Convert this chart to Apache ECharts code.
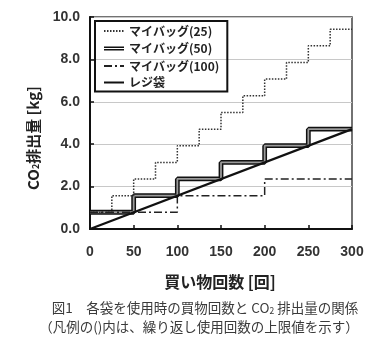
<!DOCTYPE html>
<html>
<head>
<meta charset="utf-8">
<script src="https://cdn.jsdelivr.net/npm/echarts@6/dist/echarts.min.js"></script>
<style>
  html, body { margin: 0; padding: 0; background: #fff; }
  #chart { width: 388px; height: 348px; }
</style>
</head>
<body>
<div id="chart"></div>
<script>
// Shopping trips (x) and cumulative CO2 emissions [kg] for each bag type
const trips25 = [0, 25, 50, 75, 100, 125, 150, 175, 200, 225, 250, 275, 300];
const myBag25 = [0.79, 1.57, 2.36, 3.14, 3.93, 4.71, 5.50, 6.28, 7.07, 7.85, 8.64, 9.42, 9.42];

const trips50 = [0, 50, 100, 150, 200, 250, 300];
const myBag50 = [0.79, 1.57, 2.36, 3.14, 3.93, 4.71, 4.71];

const trips100 = [0, 100, 200, 300];
const myBag100 = [0.79, 1.57, 2.36, 2.36];

const tripsReji = [0, 300];
const rejiBag = [0, 4.71];

const seriesNames = ['マイバッグ(25)', 'マイバッグ(50)', 'マイバッグ(100)', 'レジ袋'];
const yTicks = [0, 2, 4, 6, 8, 10];
const xTicks = [0, 50, 100, 150, 200, 250, 300];

const pairs = (xs, ys) => xs.map((x, i) => [x, ys[i]]);

const latin = '"Liberation Sans", Arial, sans-serif';
const cjk = '"Noto Sans CJK JP", "Liberation Sans", sans-serif';

const chart = echarts.init(document.getElementById('chart'), null, { renderer: 'canvas' });

// two thin bars for the double-line legend key
const doubleIcon = 'path://M0,0h0.05v0.05h-0.05z M0,4.9h20v1.7h-20z M0,7.4h20v1.7h-20z M19.95,13.95h0.05v0.05h-0.05z';
const noSymbol = { itemStyle: { opacity: 0 } };

chart.setOption({
  animation: false,
  backgroundColor: '#fff',
  grid: {
    left: 90, right: 36, top: 17, bottom: 119,
    show: true, borderColor: '#444', borderWidth: 1.5, backgroundColor: 'transparent'
  },
  legend: {
    orient: 'vertical',
    left: 95, top: 21,
    padding: [4, 8, 3, 8],
    itemGap: 4.5,
    itemWidth: 20, itemHeight: 14,
    borderColor: '#111', borderWidth: 2,
    backgroundColor: 'transparent',
    textStyle: { fontFamily: cjk, fontWeight: 'bold', fontSize: 12, color: '#222' },
    data: [
      Object.assign({ name: seriesNames[0] }, noSymbol),
      { name: seriesNames[1], icon: doubleIcon },
      Object.assign({ name: seriesNames[2] }, noSymbol),
      Object.assign({ name: seriesNames[3] }, noSymbol)
    ]
  },
  xAxis: {
    type: 'value', min: 0, max: 300, interval: 50,
    axisLine: { show: true, onZero: false, lineStyle: { color: '#111', width: 2 } },
    axisTick: { show: true, inside: true, length: 4, lineStyle: { color: '#111', width: 1.5 } },
    splitLine: { show: false },
    axisLabel: {
      margin: 16, fontFamily: latin, fontWeight: 'bold', fontSize: 14, color: '#333',
      formatter: v => xTicks.includes(v) ? String(v) : ''
    }
  },
  yAxis: {
    type: 'value', min: 0, max: 10, interval: 2,
    axisLine: { show: true, onZero: false, lineStyle: { color: '#111', width: 2 } },
    axisTick: { show: true, inside: true, length: 4, lineStyle: { color: '#111', width: 1.5 } },
    splitLine: { show: true, lineStyle: { color: '#c8c8c8', width: 1 } },
    axisLabel: {
      margin: 10, fontFamily: latin, fontWeight: 'bold', fontSize: 14, color: '#333',
      formatter: v => yTicks.includes(v) ? v.toFixed(1) : ''
    }
  },
  series: [
    {
      name: seriesNames[0], type: 'line', step: 'end', symbol: 'none', z: 3,
      color: '#333',
      lineStyle: { color: '#333', width: 1.5, type: [1.5, 1.5] },
      data: pairs(trips25, myBag25)
    },
    {
      name: seriesNames[1], type: 'line', step: 'end', symbol: 'none', z: 2,
      color: '#111',
      lineStyle: { color: '#111', width: 4.8 },
      data: pairs(trips50, myBag50)
    },
    {
      // light core of the double line
      name: 'core50', type: 'line', step: 'end', symbol: 'none', z: 2,
      color: '#9a9a9a',
      lineStyle: { color: '#9a9a9a', width: 1.8 },
      data: pairs(trips50, myBag50)
    },
    {
      name: seriesNames[2], type: 'line', step: 'end', symbol: 'none', z: 4,
      color: '#222',
      lineStyle: { color: '#222', width: 1.5, type: [8, 3, 2, 3] },
      data: pairs(trips100, myBag100)
    },
    {
      name: seriesNames[3], type: 'line', symbol: 'none', z: 5,
      color: '#111',
      lineStyle: { color: '#111', width: 2.2 },
      data: pairs(tripsReji, rejiBag)
    }
  ],
  graphic: [
    {
      type: 'text', x: 220, y: 282,
      style: {
        text: '買い物回数 [回]', fontFamily: cjk, fontWeight: 'bold', fontSize: 16,
        fill: '#222', align: 'center', verticalAlign: 'middle'
      }
    },
    {
      type: 'text', x: 33, y: 138, rotation: Math.PI / 2,
      style: {
        text: '{m|CO}{s|2}{m|排出量 [kg]}', align: 'center', verticalAlign: 'middle',
        rich: {
          m: { fontFamily: cjk, fontWeight: 'bold', fontSize: 15, fill: '#222' },
          s: { fontFamily: cjk, fontWeight: 'bold', fontSize: 9, fill: '#222', padding: [6, 0, 0, 0] }
        }
      }
    },
    {
      type: 'text', x: 205, y: 308,
      style: {
        text: '{t|図1　各袋を使用時の買物回数と CO}{s|2}{t| 排出量の関係}', align: 'center', verticalAlign: 'middle',
        rich: {
          t: { fontFamily: cjk, fontSize: 13.5, fill: '#3a3a3a' },
          s: { fontFamily: cjk, fontSize: 8.5, fill: '#3a3a3a', padding: [6, 0, 0, 0] }
        }
      }
    },
    {
      type: 'text', x: 199, y: 327,
      style: {
        text: '（凡例の()内は、繰り返し使用回数の上限値を示す）', align: 'center', verticalAlign: 'middle',
        fontFamily: cjk, fontSize: 13.5, fill: '#3a3a3a'
      }
    }
  ]
});
</script>
</body>
</html>
